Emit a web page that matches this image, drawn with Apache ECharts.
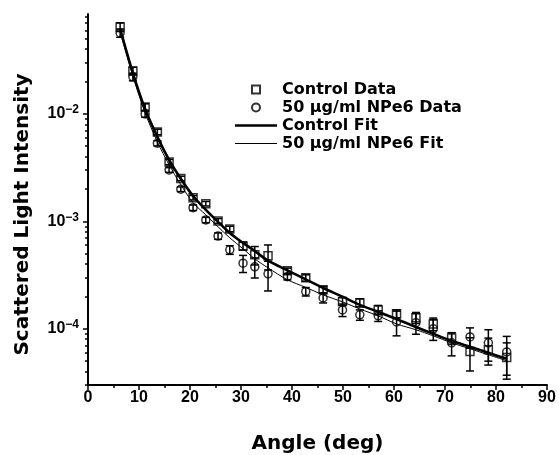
<!DOCTYPE html>
<html><head><meta charset="utf-8">
<script src="https://cdn.jsdelivr.net/npm/echarts@6/dist/echarts.min.js"></script>
<style>html,body{margin:0;padding:0;background:#fff}#c{width:560px;height:455px}</style>
</head><body><div id="c"></div>
<script>
// Scattering angle (deg)
const angles = [6.3, 8.8, 11.2, 13.6, 15.9, 18.2, 20.6, 23.1, 25.5, 27.8, 30.4, 32.7, 35.3,
  39.1, 42.7, 46.1, 49.9, 53.3, 56.9, 60.5, 64.3, 67.7, 71.3, 74.9, 78.5, 82.1];
// Control data (open squares) and its error (+/-)
const controlData = [0.0644, 0.0251, 0.0116, 0.0068, 0.00357, 0.00251, 0.00166, 0.00146, 0.00101, 0.00085,
  0.00059, 0.000488, 0.000478, 0.000347, 0.000298, 0.000231, 0.00018, 0.000175, 0.00015, 0.000138,
  0.000127, 0.000111, 0.000082, 0.0000615, 0.000064, 0.000054];
const controlErr = [0.006, 0.002, 0.0008, 0.0004, 0.0002, 0.00012, 0.00008, 0.00007, 0.00005, 0.00005,
  0.00005, 0.000095, 0.000125, 0.00002, 0.00002, 0.000015, 0.000015, 0.000015, 0.000015, 0.000012,
  0.000015, 0.000015, 0.00001, 0.000021, 0.000018, 0.00002];
// 50 ug/ml NPe6 data (open circles) and its error (+/-)
const npe6Data = [0.0566, 0.0221, 0.0100, 0.00533, 0.00301, 0.00199, 0.00134, 0.00103, 0.00073, 0.000543,
  0.000408, 0.000377, 0.000325, 0.000305, 0.000222, 0.000194, 0.00015, 0.000135, 0.000132, 0.000116,
  0.000114, 0.0001, 0.000074, 0.000084, 0.000074, 0.000061];
const npe6Err = [0.005, 0.0018, 0.0007, 0.0003, 0.00015, 0.0001, 0.00008, 0.00006, 0.00005, 0.00005,
  0.000074, 0.00008, 0.0001, 0.00002, 0.00002, 0.00002, 0.00002, 0.000015, 0.000015, 0.00003,
  0.000025, 0.000022, 0.000018, 0.000018, 0.000024, 0.000024];
// Fit curves read at the same angles
const controlFit = [0.0618, 0.0240, 0.0111, 0.00611, 0.00373, 0.00249, 0.00172, 0.00128, 0.00099, 0.00078,
  0.00063, 0.00053, 0.00043, 0.00035, 0.000288, 0.00024, 0.000199, 0.000167, 0.000144, 0.000123,
  0.000104, 0.0000898, 0.0000773, 0.000068, 0.0000598, 0.0000526];
const npe6Fit = [0.0579, 0.0225, 0.0102, 0.00549, 0.00336, 0.00219, 0.00149, 0.00115, 0.000889, 0.000703,
  0.000555, 0.000448, 0.000369, 0.000286, 0.000243, 0.000207, 0.000178, 0.000153, 0.000132, 0.000111,
  0.000098, 0.000086, 0.0000741, 0.0000652, 0.0000573, 0.0000504];
// Axis ticks
const yMajorTicks = [1e-4, 1e-3, 1e-2];
const yMinorTicks = [3e-5, 4e-5, 5e-5, 6e-5, 7e-5, 8e-5, 9e-5,
  2e-4, 3e-4, 4e-4, 5e-4, 6e-4, 7e-4, 8e-4, 9e-4,
  2e-3, 3e-3, 4e-3, 5e-3, 6e-3, 7e-3, 8e-3, 9e-3,
  2e-2, 3e-2, 4e-2, 5e-2, 6e-2, 7e-2, 8e-2];
const seriesNames = ['Control Data', '50 μg/ml NPe6 Data', 'Control Fit', '50 μg/ml NPe6 Fit'];

const numFont = 'Liberation Sans, Arial, sans-serif';
const txtFont = 'DejaVu Sans, sans-serif';
const Y_MIN = 3e-5, Y_MAX = 0.085;

function errRender(params, api) {
  const x = api.value(0), lo = api.value(1), hi = api.value(2);
  const a = api.coord([x, lo]), b = api.coord([x, hi]);
  const w = 4;
  const st = {stroke: '#000', lineWidth: 1.5, fill: null};
  return {type: 'group', children: [
    {type: 'line', shape: {x1: a[0], y1: a[1], x2: b[0], y2: b[1]}, style: st},
    {type: 'line', shape: {x1: a[0] - w, y1: a[1], x2: a[0] + w, y2: a[1]}, style: st},
    {type: 'line', shape: {x1: b[0] - w, y1: b[1], x2: b[0] + w, y2: b[1]}, style: st}
  ]};
}

const chart = echarts.init(document.getElementById('c'), null, {renderer: 'canvas'});
chart.setOption({
  animation: false,
  backgroundColor: '#fff',
  grid: {left: 88, right: 13, top: 14, bottom: 70, containLabel: false, outerBoundsMode: 'none'},
  legend: {
    orient: 'vertical', left: 235, top: 81.5, padding: 0, itemWidth: 42, itemHeight: 8, itemGap: 2,
    selectedMode: false, symbolKeepAspect: true,
    textStyle: {fontFamily: txtFont, fontWeight: 'bold', fontSize: 16, color: '#000'},
    data: [
      {name: seriesNames[0], icon: 'path://M0,0L10,0L10,10L0,10Z'},
      {name: seriesNames[1], icon: 'circle'},
      {name: seriesNames[2], icon: 'path://M0,0L100,0L100,6L0,6Z'},
      {name: seriesNames[3], icon: 'path://M0,0L100,0L100,2.4L0,2.4Z'}
    ]
  },
  xAxis: {
    type: 'value', min: 0, max: 90, interval: 10,
    axisLine: {show: true, onZero: false, lineStyle: {color: '#000', width: 2}},
    axisTick: {show: true, length: 5, lineStyle: {color: '#000', width: 1.5}},
    minorTick: {show: true, splitNumber: 2, length: 3, lineStyle: {color: '#000', width: 1.5}},
    splitLine: {show: false},
    axisLabel: {margin: 5, color: '#000', fontFamily: numFont, fontWeight: 'bold', fontSize: 16},
    name: 'Angle (deg)', nameLocation: 'middle', nameGap: 49,
    nameTextStyle: {fontFamily: txtFont, fontWeight: 'bold', fontSize: 20, color: '#000'}
  },
  yAxis: [{
    type: 'log', logBase: 10, min: Y_MIN, max: Y_MAX, position: 'left',
    axisLine: {show: true, lineStyle: {color: '#000', width: 2}},
    axisTick: {show: true, length: 5, customValues: yMajorTicks, lineStyle: {color: '#000', width: 1.5}},
    splitLine: {show: false},
    axisLabel: {
      margin: 9, customValues: yMajorTicks,
      formatter: function (v) { return '{b|10}{s|' + String(Math.round(Math.log10(v))).replace('-', '\u2212') + '}'; },
      rich: {
        b: {fontFamily: numFont, fontWeight: 'bold', fontSize: 16, color: '#000', lineHeight: 20},
        s: {fontFamily: numFont, fontWeight: 'bold', fontSize: 12, color: '#000', lineHeight: 12, verticalAlign: 'top'}
      }
    },
    name: 'Scattered Light Intensity', nameLocation: 'middle', nameGap: 55,
    nameTextStyle: {fontFamily: txtFont, fontWeight: 'bold', fontSize: 20, color: '#000', padding: [0, 30, 0, 0]}
  }, {
    type: 'log', logBase: 10, min: Y_MIN, max: Y_MAX, position: 'left',
    axisLine: {show: false},
    axisTick: {show: true, length: 3, customValues: yMinorTicks, lineStyle: {color: '#000', width: 1.5}},
    axisLabel: {show: false},
    splitLine: {show: false}
  }],
  series: [
    {name: seriesNames[2], type: 'line', symbol: 'none', smooth: 0.3, z: 2,
      lineStyle: {color: '#000', width: 2.6}, itemStyle: {color: '#000'},
      data: angles.map((a, i) => [a, controlFit[i]])},
    {name: seriesNames[3], type: 'line', symbol: 'none', smooth: 0.3, z: 2,
      lineStyle: {color: '#000', width: 1}, itemStyle: {color: '#000'},
      data: angles.map((a, i) => [a, npe6Fit[i]])},
    {name: 'controlErr', type: 'custom', renderItem: errRender, z: 3,
      encode: {x: 0, y: [1, 2]},
      data: angles.map((a, i) => [a, controlData[i] - controlErr[i], controlData[i] + controlErr[i]])},
    {name: 'npe6Err', type: 'custom', renderItem: errRender, z: 3,
      encode: {x: 0, y: [1, 2]},
      data: angles.map((a, i) => [a, npe6Data[i] - npe6Err[i], npe6Data[i] + npe6Err[i]])},
    {name: seriesNames[0], type: 'scatter', symbol: 'rect', symbolSize: 8, z: 4,
      itemStyle: {color: 'rgba(255,255,255,0)', borderColor: '#000', borderWidth: 1.5},
      data: angles.map((a, i) => [a, controlData[i]])},
    {name: seriesNames[1], type: 'scatter', symbol: 'circle', symbolSize: 8, z: 4,
      itemStyle: {color: 'rgba(255,255,255,0)', borderColor: '#000', borderWidth: 1.5},
      data: angles.map((a, i) => [a, npe6Data[i]])}
  ]
});
</script>
</body></html>
